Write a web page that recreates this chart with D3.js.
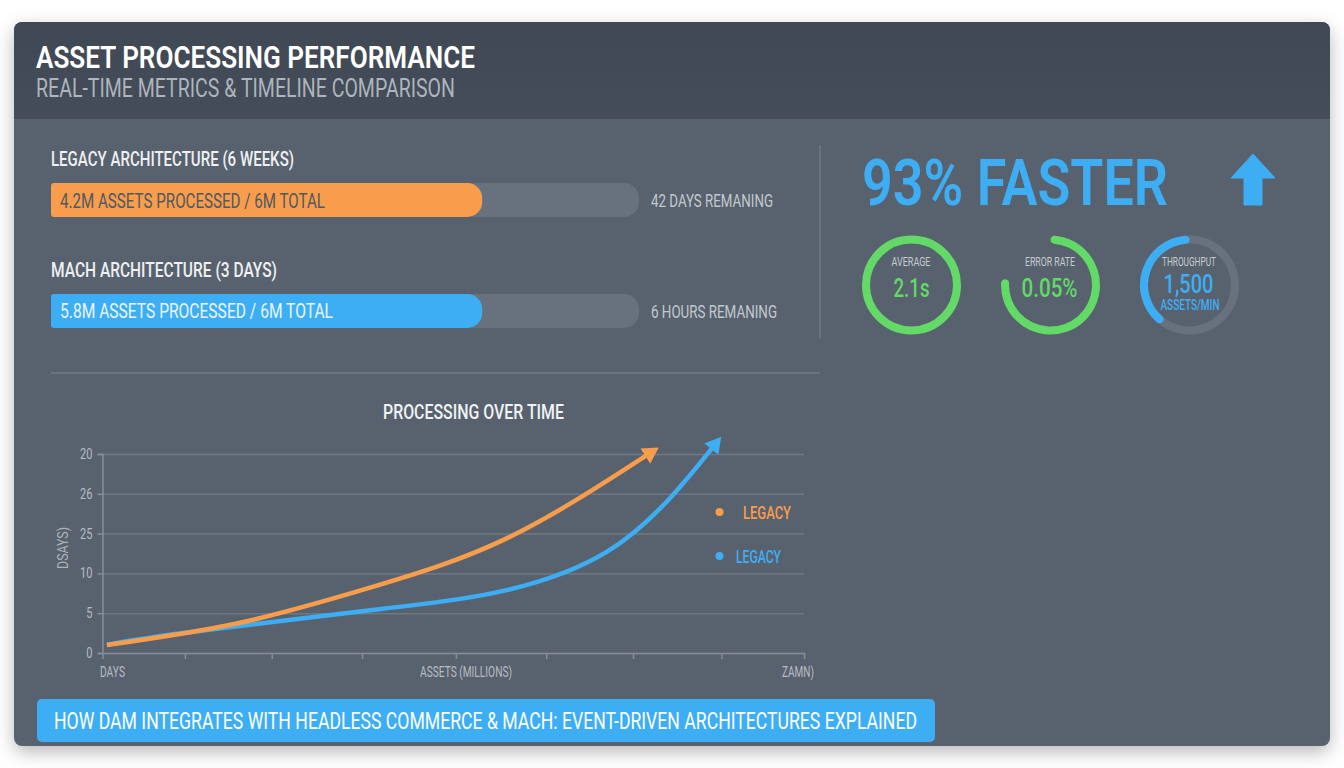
<!DOCTYPE html>
<html>
<head>
<meta charset="utf-8">
<script src="https://cdn.jsdelivr.net/npm/d3@7/dist/d3.min.js"></script>
<style>
html,body{margin:0;padding:0;background:#fff;overflow:hidden}
svg{display:block}
text{font-family:"Roboto","Liberation Sans",sans-serif}
</style>
</head>
<body>
<svg id="c" width="1344" height="768"></svg>
<script>
// ---- data ----
const chartTitle = "ASSET PROCESSING PERFORMANCE";
const chartSubtitle = "REAL-TIME METRICS & TIMELINE COMPARISON";
const barHeadings = ["LEGACY ARCHITECTURE (6 WEEKS)", "MACH ARCHITECTURE (3 DAYS)"];
const barLabels = ["4.2M ASSETS PROCESSED / 6M TOTAL", "5.8M ASSETS PROCESSED / 6M TOTAL"];
const barRemaining = ["42 DAYS REMANING", "6 HOURS REMANING"];
const barFill = [4.4, 4.4];
const barTotal = 6;
const headline = "93% FASTER";
const ringTitles = ["AVERAGE", "ERROR RATE", "THROUGHPUT"];
const ringValues = ["2.1s", "0.05%", "1,500"];
const ringShare = [100, 77, 40];
const plotTitle = "PROCESSING OVER TIME";
const yTickValues = [0, 5, 10, 15, 20, 25];
const yTickLabels = ["0", "5", "10", "25", "26", "20"];
const xTickValues = [0, 0.94, 1.93, 2.96, 4.03, 5.06, 6.05, 7.06, 8];
const legacyX = [0.05, 1.57, 3.08, 4.61, 6.2];
const legacyY = [1.0, 3.8, 8.3, 14.4, 24.8];
const machX = [0.05, 0.92, 3.08, 4.61, 5.75, 6.5, 6.95];
const machY = [1.0, 2.5, 5.4, 7.9, 12.7, 19.8, 25.7];
const legendLabels = ["LEGACY", "LEGACY"];
const footer = "HOW DAM INTEGRATES WITH HEADLESS COMMERCE & MACH: EVENT-DRIVEN ARCHITECTURES EXPLAINED";

// ---- palette ----
const ORANGE = "#f89d4c", BLUE = "#3eaef4", GREEN = "#63d968", TRACK = "#68727e", GRID = "#6f7883";

const svg = d3.select("#c");
const defs = svg.append("defs");

const sh = defs.append("filter").attr("id","cardShadow").attr("x","-5%").attr("y","-5%").attr("width","110%").attr("height","112%");
sh.append("feDropShadow").attr("dx",0).attr("dy",6).attr("stdDeviation",9).attr("flood-color","#000").attr("flood-opacity",0.28);

const hg = defs.append("linearGradient").attr("id","headGrad").attr("x1",0).attr("y1",0).attr("x2",0).attr("y2",1);
hg.append("stop").attr("offset","0%").attr("stop-color","#3f4853");
hg.append("stop").attr("offset","100%").attr("stop-color","#444d59");

[["arrowO",ORANGE],["arrowB",BLUE]].forEach(([id,col])=>{
  defs.append("marker").attr("id",id).attr("markerUnits","userSpaceOnUse")
    .attr("viewBox","0 0 16 20").attr("markerWidth",16).attr("markerHeight",20)
    .attr("refX",1).attr("refY",10).attr("orient","auto")
    .append("path").attr("d","M0,1 L16,10 L0,19 Z").attr("fill",col);
});

const W = 1316, H = 724;
const card = svg.append("g").attr("transform","translate(14,22)");
card.append("rect").attr("width",W).attr("height",H).attr("rx",8).attr("fill","#58626e").attr("filter","url(#cardShadow)");
card.append("path")
  .attr("d",`M0,97 V8 A8,8 0 0 1 8,0 H${W-8} A8,8 0 0 1 ${W},8 V97 Z`)
  .attr("fill","url(#headGrad)");

function label(t,x,y,size,fill,width,opt={}){
  const s = svg.append("text").attr("x",x).attr("y",y).attr("font-size",size).attr("fill",fill)
    .attr("text-anchor",opt.anchor||"start").attr("font-weight",opt.weight||"normal").text(t);
  if(width) s.attr("textLength",width).attr("lengthAdjust","spacingAndGlyphs");
  if(opt.rotate) s.attr("transform",`rotate(${opt.rotate} ${x} ${y})`);
  return s;
}

// header
label(chartTitle,36,68,31,"#ffffff",439,{weight:600});
label(chartSubtitle,36,97,25,"#aeb5bd",419);

// progress bars
const barX = d3.scaleLinear().domain([0,barTotal]).range([51,639]);
const barTop = [183,294], barH = 34;
const headY = [166,277], labelY = [208,318], remY = [207,318];
const headW = [243,226], labelW = [265,273], remW = [122,126];
const barCols = [ORANGE,BLUE], labelCols = ["#4f5863","#eaf5fd"];
barFill.forEach((v,i)=>{
  label(barHeadings[i],51,headY[i],19.5,"#eef0f2",headW[i],{weight:500});
  svg.append("rect").attr("x",barX(0)).attr("y",barTop[i]).attr("width",barX(barTotal)-barX(0)).attr("height",barH).attr("rx",15).attr("fill",TRACK);
  const x0 = barX(0), x1 = barX(v), r = 15, t = barTop[i], b = t+barH;
  svg.append("path").attr("fill",barCols[i])
    .attr("d",`M${x0+3},${t} H${x1-r} A${r},${r} 0 0 1 ${x1},${t+r} V${b-r} A${r},${r} 0 0 1 ${x1-r},${b} H${x0+3} A3,3 0 0 1 ${x0},${b-3} V${t+3} A3,3 0 0 1 ${x0+3},${t} Z`);
  label(barLabels[i],60,labelY[i],21,labelCols[i],labelW[i]);
  label(barRemaining[i],651,remY[i],17.5,"#c3c8ce",remW[i]);
});

// dividers
svg.append("line").attr("x1",820).attr("x2",820).attr("y1",145).attr("y2",338).attr("stroke",GRID).attr("stroke-width",1.5);
svg.append("line").attr("x1",51).attr("x2",820).attr("y1",373).attr("y2",373).attr("stroke",GRID).attr("stroke-width",1.5);

// headline
label(headline,862,205,64,BLUE,306,{weight:600});
const upPts = [[1253,154],[1275,178],[1262,178],[1262,205],[1244,205],[1244,178],[1231,178]];
svg.append("path").attr("d",d3.line()(upPts)+"Z").attr("fill",BLUE).attr("stroke",BLUE).attr("stroke-width",1).attr("stroke-linejoin","round");

// rings
const ringCx = [911.5,1050.5,1189.5], ringCy = 285, ringR = 45.5, ringW = 8;
const ringAngle = d3.scaleLinear().domain([0,100]).range([0,2*Math.PI]);
const ringArc = d3.arc().innerRadius(ringR-ringW/2).outerRadius(ringR+ringW/2).cornerRadius(ringW/2);
const ringCols = [GREEN,GREEN,BLUE];
ringShare.forEach((p,i)=>{
  const g = svg.append("g").attr("transform",`translate(${ringCx[i]},${ringCy})`);
  if(i===2) g.append("circle").attr("r",ringR).attr("fill","none").attr("stroke",TRACK).attr("stroke-width",ringW);
  const a = ringAngle(p);
  if(p>=100) g.append("circle").attr("r",ringR).attr("fill","none").attr("stroke",ringCols[i]).attr("stroke-width",ringW);
  else if(i===2) g.append("path").attr("fill",ringCols[i]).attr("d",ringArc({startAngle:-a,endAngle:0}));
  else g.append("path").attr("fill",ringCols[i]).attr("d",ringArc({startAngle:0,endAngle:a}));
});
const titleW = [39,50,54], valW = [36,56,50], valY = [297,297,293], titleY = [266,266,266];
ringTitles.forEach((t,i)=>{
  label(t,ringCx[i]-0.5,titleY[i],12,"#c6cbd1",titleW[i],{anchor:"middle"});
  label(ringValues[i],ringCx[i]-(i===0?0:1),valY[i],26,ringCols[i],valW[i],{anchor:"middle",weight:500});
});
label("ASSETS/MIN",1190,310,14.5,BLUE,59,{anchor:"middle",weight:500});

// line chart
label(plotTitle,473.5,419,19.5,"#f0f2f4",181,{anchor:"middle",weight:500});
const x = d3.scaleLinear().domain([0,8]).range([102.5,804]);
const y = d3.scaleLinear().domain([0,25]).range([653,454]);

const grid = svg.append("g").attr("transform","translate(102.5,0)")
  .call(d3.axisLeft(y).tickValues(yTickValues.slice(1)).tickSize(-(804-102.5)).tickFormat(""));
grid.select(".domain").remove();
grid.selectAll("line").attr("stroke",GRID).attr("stroke-width",1.5);

const yAxis = svg.append("g").attr("transform","translate(102.5,0)")
  .call(d3.axisLeft(y).tickValues(yTickValues).tickSize(5).tickPadding(5).tickFormat((d,i)=>yTickLabels[i]));
yAxis.select(".domain").attr("stroke","#868e98").attr("stroke-width",1.5);
yAxis.selectAll("line").attr("stroke","#868e98").attr("stroke-width",1.5);
yAxis.selectAll("text").attr("fill","#b6bcc3").attr("font-size",14)
  .style("font-family","Roboto,sans-serif")
  .attr("textLength",(d,i)=>yTickLabels[i].length*6.2).attr("lengthAdjust","spacingAndGlyphs");

const xAxis = svg.append("g").attr("transform",`translate(0,${y(0)})`)
  .call(d3.axisBottom(x).tickValues(xTickValues).tickSizeInner(6).tickSizeOuter(0).tickFormat(""));
xAxis.select(".domain").attr("stroke","#868e98").attr("stroke-width",1.5);
xAxis.selectAll("line").attr("stroke","#868e98").attr("stroke-width",1.5);

label("DAYS",100,677,14,"#b6bcc3",25);
label("ASSETS (MILLIONS)",420,677,14,"#b6bcc3",92);
label("ZAMN)",782,677,14,"#b6bcc3",32);
label("DSAYS)",68,569,15,"#aab1b9",42,{rotate:-90});

const line = d3.line().x(d=>x(d[0])).y(d=>y(d[1])).curve(d3.curveNatural);
svg.append("path").datum(d3.zip(machX,machY)).attr("d",line).attr("fill","none").attr("stroke",BLUE).attr("stroke-width",4.5).attr("marker-end","url(#arrowB)");
svg.append("path").datum(d3.zip(legacyX,legacyY)).attr("d",line).attr("fill","none").attr("stroke",ORANGE).attr("stroke-width",4.5).attr("marker-end","url(#arrowO)");

// legend
const legendDotY = [512,556], legendTextX = [743,736], legendTextY = [519,563], legendW = [48,45], legendCols = [ORANGE,BLUE];
legendLabels.forEach((t,i)=>{
  svg.append("circle").attr("cx",719.5).attr("cy",legendDotY[i]).attr("r",4).attr("fill",legendCols[i]);
  label(t,legendTextX[i],legendTextY[i],18,legendCols[i],legendW[i],{weight:500});
});

// footer
svg.append("rect").attr("x",37).attr("y",699).attr("width",898).attr("height",43).attr("rx",5).attr("fill",BLUE);
label(footer,54,729,23,"#ffffff",863);
</script>
</body>
</html>
